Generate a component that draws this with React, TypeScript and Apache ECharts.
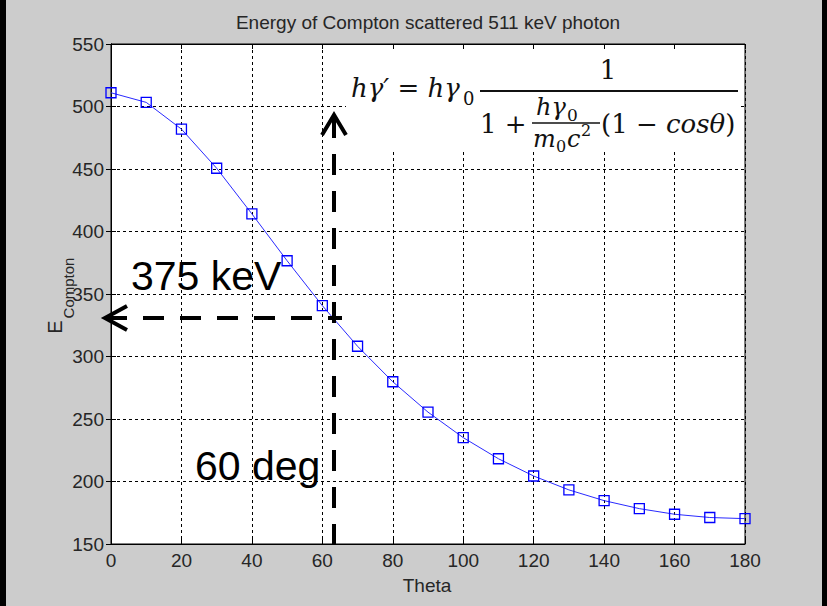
import React, { useEffect, useRef } from "react";
import * as echarts from "echarts";

// Scattering angle (deg) and scattered photon energy (keV)
const thetaDeg = [0, 10, 20, 30, 40, 50, 60, 70, 80, 90, 100, 110, 120, 130, 140, 150, 160, 170, 180];
const comptonKeV = [511, 503.3, 481.9, 450.6, 414.1, 376.6, 340.7, 308.2, 279.8, 255.5, 235.1, 218.2, 204.4, 193.3, 184.7, 178.3, 173.8, 171.2, 170.3];

const xMin = 0;
const xMax = 180;
const xStep = 20;
const yMin = 150;
const yMax = 550;
const yStep = 50;

const titleText = "Energy of Compton scattered 511 keV photon";
const xName = "Theta";
const yNameMain = "E";
const yNameSub = "Compton";
const energyNote = "375 keV";
const angleNote = "60 deg";

export default function App() {
  const ref = useRef<HTMLDivElement>(null);

  useEffect(() => {
    if (!ref.current) return;
    const chart = echarts.init(ref.current, null, { renderer: "svg" });
    const font = "'Liberation Sans', Arial, Helvetica, sans-serif";
    const serif = "'DejaVu Serif', serif";
    const txt = "#262626";
    const gridLine = { type: [3, 3] as any, color: "#000", width: 1 };
    const axisLine = { show: true, lineStyle: { color: "#000", width: 1 } };
    const tick = { show: true, inside: true, length: 5, lineStyle: { color: "#000", width: 1 } };

    const dash = [21, 16];
    const Z = 100;

    const option: any = {
      animation: false,
      backgroundColor: "#cccccc",
      grid: {
        left: 111,
        right: 82,
        top: 44,
        bottom: 62,
        show: true,
        backgroundColor: "#ffffff",
        borderColor: "#000",
        borderWidth: 1,
      },
      xAxis: [
        {
          type: "value",
          min: xMin,
          max: xMax,
          interval: xStep,
          position: "bottom",
          axisLine,
          axisTick: tick,
          axisLabel: { color: txt, fontSize: 19, fontFamily: font, margin: 7 },
          splitLine: { show: true, lineStyle: gridLine },
        },
        {
          type: "value",
          min: xMin,
          max: xMax,
          interval: xStep,
          position: "top",
          axisLine,
          axisTick: tick,
          axisLabel: { show: false },
          splitLine: { show: false },
        },
      ],
      yAxis: [
        {
          type: "value",
          min: yMin,
          max: yMax,
          interval: yStep,
          position: "left",
          axisLine,
          axisTick: tick,
          axisLabel: { color: txt, fontSize: 19, fontFamily: font, margin: 7 },
          splitLine: { show: true, lineStyle: gridLine },
        },
        {
          type: "value",
          min: yMin,
          max: yMax,
          interval: yStep,
          position: "right",
          axisLine,
          axisTick: tick,
          axisLabel: { show: false },
          splitLine: { show: false },
        },
      ],
      series: [
        {
          type: "line",
          xAxisIndex: 0,
          yAxisIndex: 0,
          data: thetaDeg.map((t, i) => [t, comptonKeV[i]]),
          symbol: "rect",
          symbolSize: 10,
          showSymbol: true,
          lineStyle: { color: "#2a2aff", width: 1 },
          itemStyle: { color: "rgba(0,0,0,0)", borderColor: "#0000ff", borderWidth: 1.3 },
          z: 3,
        },
      ],
      graphic: [
        // dark side strips
        { type: "rect", z: Z, shape: { x: 0, y: 0, width: 6, height: 606 }, style: { fill: "#000" } },
        { type: "rect", z: Z, shape: { x: 822, y: 0, width: 5, height: 606 }, style: { fill: "#000" } },
        // title
        {
          type: "text", z: Z, x: 428, y: 22,
          style: { text: titleText, fill: txt, font: `19px ${font}`, align: "center", verticalAlign: "middle" },
        },
        // x axis name
        {
          type: "text", z: Z, x: 427, y: 585,
          style: { text: xName, fill: txt, font: `19px ${font}`, align: "center", verticalAlign: "middle" },
        },
        // y axis name E_Compton
        {
          type: "text", z: Z, x: 55, y: 327, rotation: Math.PI / 2,
          style: { text: yNameMain, fill: txt, font: `20px ${font}`, align: "center", verticalAlign: "middle" },
        },
        {
          type: "text", z: Z, x: 68, y: 288, rotation: Math.PI / 2,
          style: { text: yNameSub, fill: txt, font: `15px ${font}`, align: "center", verticalAlign: "middle" },
        },
        // formula box
        { type: "rect", z: Z, shape: { x: 346, y: 50, width: 395, height: 100 }, style: { fill: "#ffffff" } },
        {
          type: "text", z: Z + 1, x: 351, y: 88,
          style: { text: "hγ′ = hγ", fill: "#111", font: `italic 26px ${serif}`, align: "left", verticalAlign: "middle" },
        },
        {
          type: "text", z: Z + 1, x: 463, y: 98,
          style: { text: "0", fill: "#111", font: `18px ${serif}`, align: "left", verticalAlign: "middle" },
        },
        {
          type: "text", z: Z + 1, x: 608, y: 70,
          style: { text: "1", fill: "#111", font: `26px ${serif}`, align: "center", verticalAlign: "middle" },
        },
        { type: "line", z: Z + 1, shape: { x1: 480, y1: 91, x2: 738, y2: 91 }, style: { stroke: "#111", lineWidth: 2 } },
        {
          type: "text", z: Z + 1, x: 480, y: 124,
          style: { text: "1 +", fill: "#111", font: `26px ${serif}`, align: "left", verticalAlign: "middle" },
        },
        {
          type: "text", z: Z + 1, x: 536, y: 107,
          style: { text: "hγ", fill: "#111", font: `italic 24px ${serif}`, align: "left", verticalAlign: "middle" },
        },
        {
          type: "text", z: Z + 1, x: 567, y: 115,
          style: { text: "0", fill: "#111", font: `17px ${serif}`, align: "left", verticalAlign: "middle" },
        },
        { type: "line", z: Z + 1, shape: { x1: 532, y1: 123, x2: 600, y2: 123 }, style: { stroke: "#111", lineWidth: 1.5 } },
        {
          type: "text", z: Z + 1, x: 533, y: 139,
          style: { text: "m", fill: "#111", font: `italic 24px ${serif}`, align: "left", verticalAlign: "middle" },
        },
        {
          type: "text", z: Z + 1, x: 556, y: 146,
          style: { text: "0", fill: "#111", font: `16px ${serif}`, align: "left", verticalAlign: "middle" },
        },
        {
          type: "text", z: Z + 1, x: 567, y: 139,
          style: { text: "c", fill: "#111", font: `italic 24px ${serif}`, align: "left", verticalAlign: "middle" },
        },
        {
          type: "text", z: Z + 1, x: 581, y: 130,
          style: { text: "2", fill: "#111", font: `16px ${serif}`, align: "left", verticalAlign: "middle" },
        },
        {
          type: "text", z: Z + 1, x: 601, y: 124,
          style: {
            text: "{u|(1 − }{i|cosθ}{u|)}",
            fill: "#111",
            align: "left",
            verticalAlign: "middle",
            rich: {
              u: { fontFamily: serif, fontSize: 26, fill: "#111", fontStyle: "normal" },
              i: { fontFamily: serif, fontSize: 26, fill: "#111", fontStyle: "italic" },
            },
          },
        },
        // annotation texts
        {
          type: "text", z: Z, x: 131, y: 276,
          style: { text: energyNote, fill: "#000", font: `41px ${font}`, align: "left", verticalAlign: "middle" },
        },
        {
          type: "text", z: Z, x: 195, y: 466,
          style: { text: angleNote, fill: "#000", font: `41px ${font}`, align: "left", verticalAlign: "middle" },
        },
        // horizontal dashed arrow
        {
          type: "line", z: Z, shape: { x1: 106, y1: 318, x2: 342, y2: 318 },
          style: { stroke: "#000", lineWidth: 4, lineDash: dash },
        },
        {
          type: "polyline", z: Z, shape: { points: [[127, 306], [105, 318], [127, 330]] },
          style: { stroke: "#000", lineWidth: 4, fill: "none" },
        },
        // vertical dashed arrow
        {
          type: "line", z: Z, shape: { x1: 334, y1: 545, x2: 334, y2: 116 },
          style: { stroke: "#000", lineWidth: 4, lineDash: dash },
        },
        {
          type: "polyline", z: Z, shape: { points: [[322, 135], [334, 115], [346, 135]] },
          style: { stroke: "#000", lineWidth: 4, fill: "none" },
        },
      ],
    };

    chart.setOption(option);
    return () => chart.dispose();
  }, []);

  return (
    <div
      ref={ref}
      style={{ position: "fixed", left: 0, top: 0, width: 827, height: 606 }}
    />
  );
}
